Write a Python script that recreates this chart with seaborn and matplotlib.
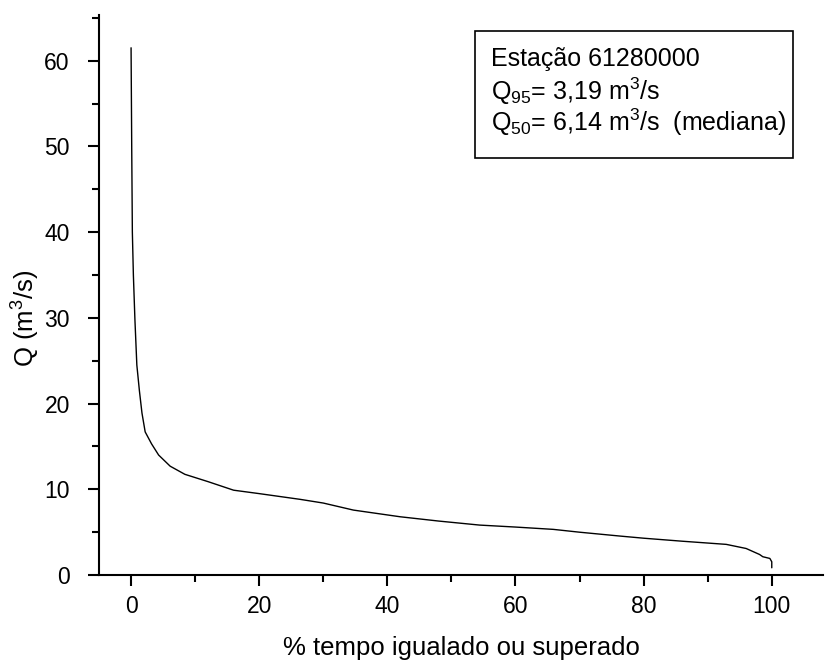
import matplotlib
matplotlib.use("Agg")
import matplotlib.pyplot as plt
import seaborn as sns
import pandas as pd
from matplotlib.ticker import MultipleLocator
from matplotlib.patches import Rectangle

pct = [0.0, 0.1, 0.2, 0.36, 0.6, 0.9, 1.3, 1.7, 2.2, 3.2, 4.3, 6.1, 8.4, 12.0,
       16.0, 20.0, 26.4, 30.0, 34.7, 42.0, 48.0, 54.4, 60.0, 65.9, 70.0, 76.3,
       80.0, 86.0, 92.9, 96.0, 98.1, 98.6, 99.7, 100.0, 100.0]
vazao = [61.5, 50.0, 40.0, 35.0, 29.8, 24.5, 21.5, 18.9, 16.7, 15.3, 14.0, 12.7,
         11.75, 10.9, 9.9, 9.5, 8.83, 8.4, 7.58, 6.8, 6.3, 5.83, 5.6, 5.33, 5.0,
         4.55, 4.3, 3.95, 3.58, 3.1, 2.4, 2.14, 1.94, 1.55, 0.85]
legend_lines = ["Estação 61280000",
                r"Q$_{95}$= 3,19 m$^{3}$/s",
                r"Q$_{50}$= 6,14 m$^{3}$/s  (mediana)"]
xlabel = "% tempo igualado ou superado"
ylabel = r"Q (m$^{3}$/s)"

sns.set_theme(style="ticks")
plt.rcParams["font.family"] = ["Liberation Sans", "DejaVu Sans"]
plt.rcParams["mathtext.fontset"] = "custom"
plt.rcParams["mathtext.rm"] = "Liberation Sans"
plt.rcParams["mathtext.it"] = "Liberation Sans"
plt.rcParams["text.color"] = "black"
plt.rcParams["axes.labelcolor"] = "black"

df = pd.DataFrame({"pct": pct, "Q": vazao})

fig = plt.figure(figsize=(8.26, 6.61), dpi=100)
ax = fig.add_axes([0.1199, 0.130, 0.8765, 0.847])
sns.lineplot(data=df, x="pct", y="Q", ax=ax, color="black", linewidth=1.0,
             sort=False, estimator=None)

ax.set_xlim(-5, 108)
ax.set_ylim(0, 65.3)
ax.xaxis.set_major_locator(MultipleLocator(20))
ax.xaxis.set_minor_locator(MultipleLocator(10))
ax.yaxis.set_major_locator(MultipleLocator(10))
ax.yaxis.set_minor_locator(MultipleLocator(5))
ax.tick_params(which="major", direction="out", length=8, width=1.5,
               labelsize=16.5, colors="black", pad=6)
ax.tick_params(axis="y", which="major", pad=13)
ax.tick_params(which="minor", direction="out", length=5, width=1.5, colors="black")
for s in ["top", "right"]:
    ax.spines[s].set_visible(False)
for s in ["left", "bottom"]:
    ax.spines[s].set_linewidth(1.5)
    ax.spines[s].set_color("black")

ax.set_xlabel(xlabel, fontsize=18.5, labelpad=13)
ax.set_ylabel(ylabel, fontsize=18.5)
ax.yaxis.set_label_coords((42 - 99) / 724, (575 - 318) / 560)

# legend-like box
x0 = (475 - 99) / (823 - 99)
x1 = (793 - 99) / (823 - 99)
y0 = (575 - 157.5) / 560
y1 = (575 - 31) / 560
ax.add_patch(Rectangle((x0, y0), x1 - x0, y1 - y0, transform=ax.transAxes,
                       fill=False, edgecolor="black", linewidth=1.2))
tx = (491 - 99) / 724
for line, py in zip(legend_lines, [66, 100, 131]):
    ax.text(tx, (575 - py) / 560, line, transform=ax.transAxes,
            fontsize=18, va="baseline", ha="left", color="black")

fig.savefig("out.png", dpi=100)
